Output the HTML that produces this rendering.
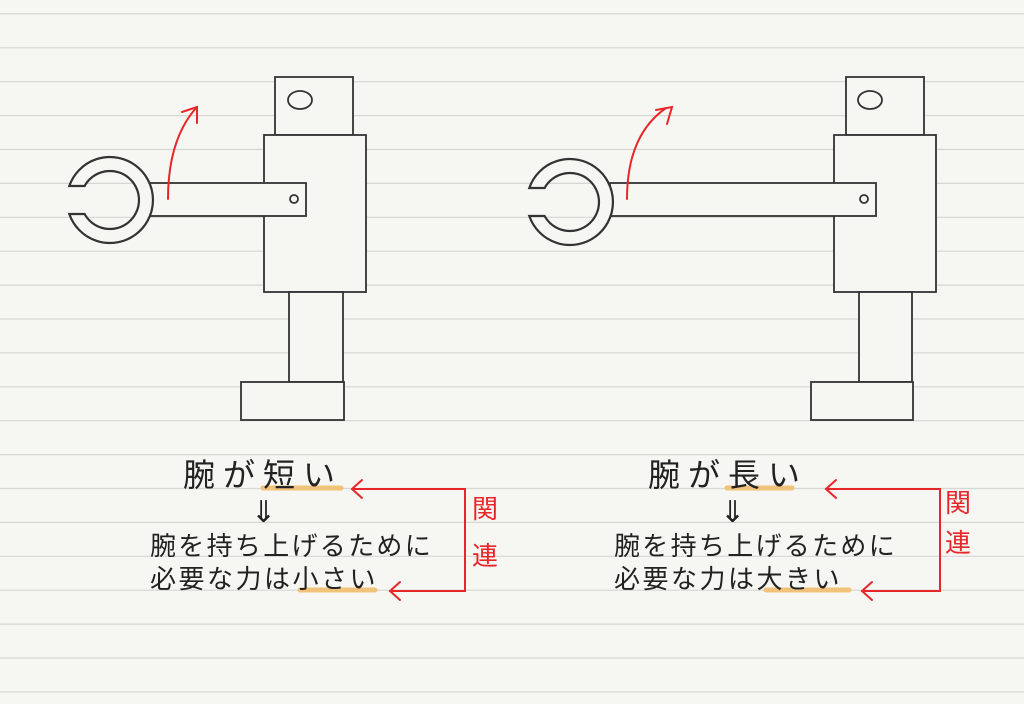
<!DOCTYPE html>
<html><head><meta charset="utf-8"><style>
html,body{margin:0;padding:0;background:#f6f6f2;}
svg{display:block}
text{font-family:"Liberation Sans","Noto Sans CJK JP",sans-serif;}
</style></head><body>
<svg width="1024" height="704" viewBox="0 0 1024 704" xmlns="http://www.w3.org/2000/svg">
<rect width="1024" height="704" fill="#f6f6f2"/>
<g stroke="#d6d6d2" stroke-width="1.2">
<line x1="0" x2="1024" y1="13.9" y2="13.9"/><line x1="0" x2="1024" y1="47.8" y2="47.8"/>
<line x1="0" x2="1024" y1="81.7" y2="81.7"/><line x1="0" x2="1024" y1="115.6" y2="115.6"/>
<line x1="0" x2="1024" y1="149.5" y2="149.5"/><line x1="0" x2="1024" y1="183.4" y2="183.4"/>
<line x1="0" x2="1024" y1="217.3" y2="217.3"/><line x1="0" x2="1024" y1="251.2" y2="251.2"/>
<line x1="0" x2="1024" y1="285.1" y2="285.1"/><line x1="0" x2="1024" y1="319" y2="319"/>
<line x1="0" x2="1024" y1="352.9" y2="352.9"/><line x1="0" x2="1024" y1="386.8" y2="386.8"/>
<line x1="0" x2="1024" y1="420.7" y2="420.7"/><line x1="0" x2="1024" y1="454.6" y2="454.6"/>
<line x1="0" x2="1024" y1="488.5" y2="488.5"/><line x1="0" x2="1024" y1="522.4" y2="522.4"/>
<line x1="0" x2="1024" y1="556.3" y2="556.3"/><line x1="0" x2="1024" y1="590.2" y2="590.2"/>
<line x1="0" x2="1024" y1="624.1" y2="624.1"/><line x1="0" x2="1024" y1="658" y2="658"/>
<line x1="0" x2="1024" y1="691.9" y2="691.9"/>
</g>
<g fill="#f6f6f2" stroke="#333" stroke-width="1.8">
<rect x="275" y="77" width="78" height="58"/>
<ellipse cx="300" cy="100" rx="12" ry="9"/>
<rect x="264" y="135" width="102" height="157"/>
<rect x="289" y="292" width="54" height="90"/>
<rect x="241" y="382" width="103" height="38"/>
<rect x="150" y="183" width="156" height="33"/>
<circle cx="294" cy="199" r="4"/>
<path d="M69.3 186 A43 43 0 1 1 69.3 214 L84.6 214 A29 29 0 1 0 84.6 186 Z" stroke-width="2.2"/>
<rect x="846" y="77" width="78" height="58"/>
<ellipse cx="870" cy="100" rx="12" ry="9"/>
<rect x="834" y="135" width="102" height="157"/>
<rect x="859" y="292" width="53" height="90"/>
<rect x="811" y="382" width="102" height="38"/>
<rect x="610" y="183" width="266" height="33"/>
<circle cx="864" cy="199" r="4"/>
<path d="M529.3 188 A43 43 0 1 1 529.3 216 L544.6 216 A29 29 0 1 0 544.6 188 Z" stroke-width="2.2"/>
</g>
<g fill="none" stroke="#e8262a" stroke-width="2" stroke-linecap="round">
<path d="M168 199 Q168 140 196 108"/><path d="M182 112 L197 107 L197 123"/>
<path d="M627 199 Q627 135 666 108"/><path d="M656 110 L672 107 L667 124"/>
<path d="M352 489 H465 V591 H390"/><path d="M362 480 L352 489 L362 498"/><path d="M400 582 L390 591 L400 600"/>
<path d="M826 489 H940 V591 H862"/><path d="M836 480 L826 489 L836 498"/><path d="M872 582 L862 591 L872 600"/>
</g>
<g stroke="#f1c27a" stroke-width="5" stroke-linecap="round">
<line x1="263" y1="488" x2="341" y2="488"/><line x1="300" y1="590" x2="375" y2="590"/>
<line x1="727" y1="488" x2="792" y2="488"/><line x1="766" y1="590" x2="849" y2="590"/>
</g>
<g fill="#222">
<text x="183" y="486" font-size="32" letter-spacing="8">腕が短い</text>
<text x="251" y="522" font-size="30">⇓</text>
<text x="150" y="555" font-size="26" letter-spacing="2.3">腕を持ち上げるために</text>
<text x="150" y="588" font-size="26" letter-spacing="2.5">必要な力は小さい</text>
<text x="648" y="486" font-size="32" letter-spacing="8">腕が長い</text>
<text x="720" y="522" font-size="30">⇓</text>
<text x="614" y="555" font-size="26" letter-spacing="2.3">腕を持ち上げるために</text>
<text x="614" y="588" font-size="26" letter-spacing="2.5">必要な力は大きい</text>
</g>
<g fill="#e8262a" font-size="26">
<text x="472" y="518">関</text><text x="472" y="565">連</text>
<text x="945" y="512">関</text><text x="945" y="552">連</text>
</g>
</svg>
</body></html>
